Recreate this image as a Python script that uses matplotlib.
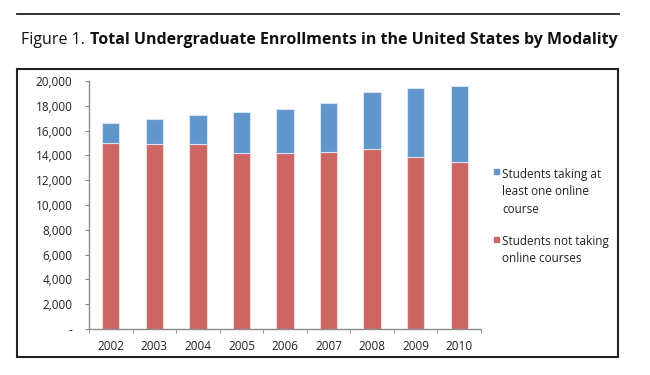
import numpy as np
import matplotlib.pyplot as plt
from matplotlib.lines import Line2D
from matplotlib.patches import Rectangle
from matplotlib.ticker import FuncFormatter

# Enrollments (thousands)
YEARS = ["2002", "2003", "2004", "2005", "2006", "2007", "2008", "2009", "2010"]
NOT_ONLINE = [15000, 14900, 14900, 14200, 14200, 14300, 14500, 13900, 13500]
TOTAL = [16600, 16900, 17250, 17500, 17750, 18250, 19100, 19450, 19600]
ONLINE = [t - n for t, n in zip(TOTAL, NOT_ONLINE)]

BLUE = "#6096CB"
RED = "#CD6662"
W, H = 650, 375

plt.rcParams["font.family"] = ["Open Sans", "DejaVu Sans"]

fig = plt.figure(figsize=(W / 100, H / 100), dpi=100)


def fx(px):
    return px / W


def fy(py):
    return 1 - py / H


# 1) ---------- frame and rules ----------
fig.add_artist(Line2D([fx(17), fx(619)], [fy(14), fy(14)], color="#222222", lw=1.3))
fig.add_artist(Rectangle((fx(17), fy(357)), fx(618) - fx(17), fy(69) - fy(357),
                         fill=False, ec="#222222", lw=1.5))

fig.text(fx(21), fy(40), "Figure 1. ", fontsize=11.5, va="center", ha="left",
         color="#111111")
fig.text(fx(90), fy(40), "Total Undergraduate Enrollments in the United States by Modality",
         fontsize=11.5, fontweight="bold", va="center", ha="left", color="#111111")

# 2) ---------- stacked bars ----------
ax = fig.add_axes([fx(89), fy(329), fx(481) - fx(89), fy(81) - fy(329)])
x = np.arange(len(YEARS))
ax.bar(x, NOT_ONLINE, width=0.4, color=RED, edgecolor="#F2D8D6", lw=0.8)
ax.bar(x, ONLINE, bottom=NOT_ONLINE, width=0.4, color=BLUE, edgecolor="#D6E4F2", lw=0.8)

ax.set_xlim(-0.5, len(YEARS) - 0.5)
ax.set_ylim(0, 20000)
ax.set_yticks(np.arange(0, 20001, 2000))
ax.yaxis.set_major_formatter(FuncFormatter(lambda v, p: "-" if v == 0 else f"{int(v):,}"))
ax.set_xticks(x)
ax.set_xticklabels(YEARS)
ax.set_xticks(np.arange(-0.5, len(YEARS), 1), minor=True)

for s in ["top", "right"]:
    ax.spines[s].set_visible(False)
for s in ["left", "bottom"]:
    ax.spines[s].set_color("#8C8C8C")
    ax.spines[s].set_linewidth(1.0)

ax.tick_params(axis="y", length=3, color="#8C8C8C", pad=9, labelsize=8.5, labelcolor="#222222")
ax.tick_params(axis="x", which="major", length=0, pad=8, labelsize=8.5, labelcolor="#222222")
ax.tick_params(axis="x", which="minor", length=3, color="#8C8C8C")

# 3) ---------- legend ----------
fig.add_artist(Rectangle((fx(494), fy(174)), fx(5), fy(0) - fy(5), color=BLUE))
fig.text(fx(502), fy(168), "Students taking at\nleast one online\ncourse",
         fontsize=8.5, va="top", ha="left", linespacing=1.45, color="#222222")
fig.add_artist(Rectangle((fx(494), fy(242)), fx(5), fy(0) - fy(5), color=RED))
fig.text(fx(502), fy(235), "Students not taking\nonline courses",
         fontsize=8.5, va="top", ha="left", linespacing=1.45, color="#222222")

fig.savefig("out.png", dpi=100)
